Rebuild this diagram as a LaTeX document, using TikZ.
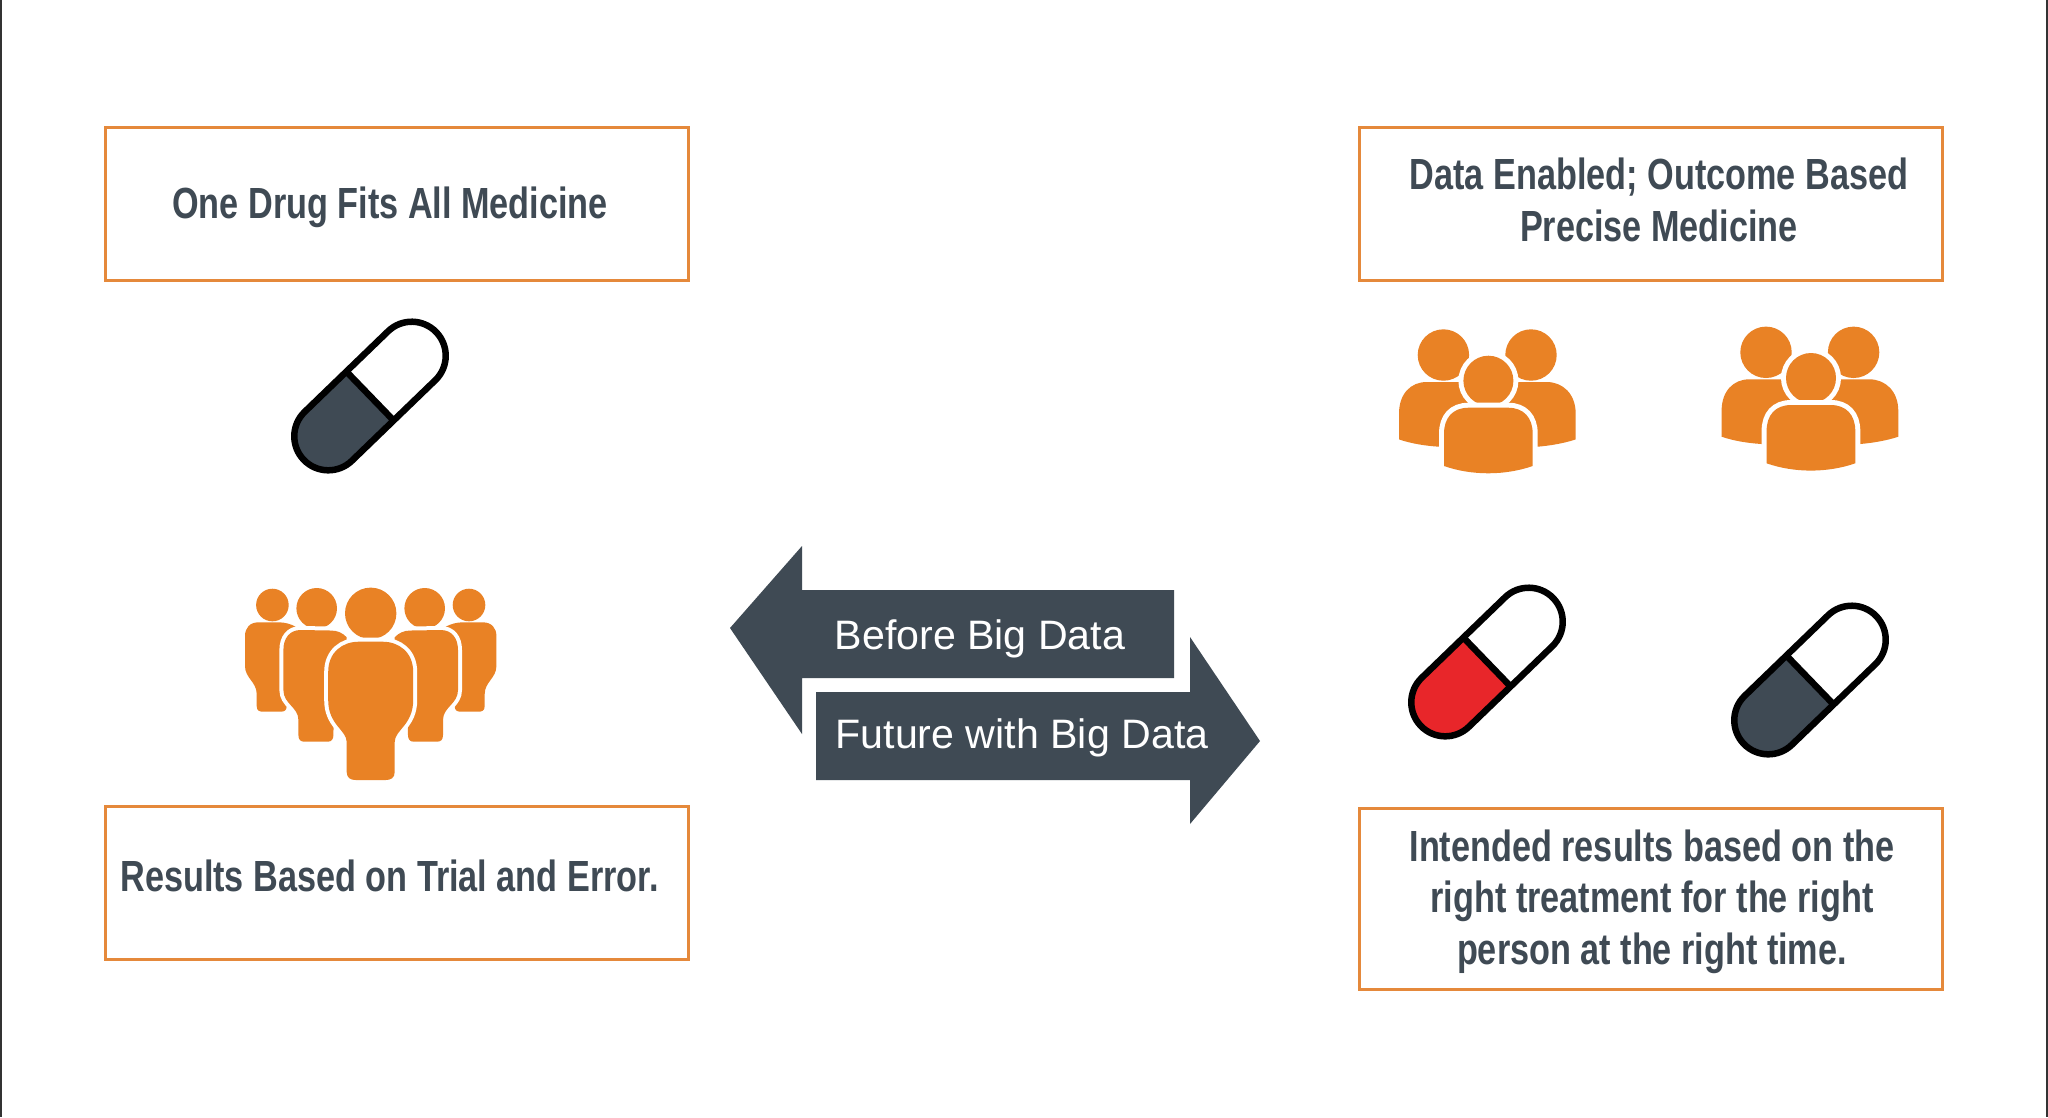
\documentclass[tikz,border=0pt]{standalone}
\usepackage{fontspec}
\setmainfont{Liberation Sans}
\newfontfamily\boxfont[FakeStretch=0.785]{Liberation Sans Bold}
\definecolor{slate}{HTML}{3F4A54}
\definecolor{pumpkin}{HTML}{E98225}
\definecolor{boxline}{HTML}{E5893B}
\definecolor{pillred}{HTML}{E8262A}
\tikzset{
    box/.style={draw=boxline, line width=0.03cm, inner sep=0pt, minimum width=5.82cm},
    boxtext/.style={text=slate, font=\boxfont\fontsize{12.4}{14.7}\selectfont, align=center},
    arrowtext/.style={text=white, font=\fontsize{11.7}{14}\selectfont},
    ring/.style={draw=white, line width=0.08cm},
    widering/.style={draw=white, line width=0.1cm},
    pill/.pic={
        % left half, then the outline
        \fill[#1] (0,-34) -- (-58,-34) arc (270:90:34) -- (0,34) -- cycle;
        \draw[line width=0.065cm] (-58,-34) -- (58,-34) arc (-90:90:34) -- (-58,34) arc (90:270:34) -- cycle;
        \draw[line width=0.065cm] (0,-34) -- (0,34);
    },
    trio/.pic={
        % back row
        \fill[pumpkin] (-43.3,46.7) circle (25.7) (44.3,46.7) circle (25.7);
        \fill[pumpkin] (-87.7,-37.7) -- (-87.7,-12) .. controls (-87.7,8) and (-76,19.7) .. (-60,19.7) -- (60,19.7) .. controls (76,19.7) and (89,8) .. (89,-12) -- (89,-37.7) .. controls (76,-42) and (62,-44) .. (51,-45) -- (-48,-45) .. controls (-62,-44) and (-75,-42) .. (-87.7,-37.7) -- cycle;
        % front person
        \path[widering] (1.7,21) circle (25);
        \fill[pumpkin] (1.7,21) circle (25);
        \def\frontbody{(-42.7,-64.3) -- (-42.7,-32) .. controls (-42.7,-16) and (-34,-6) .. (-18,-6) -- (21.4,-6) .. controls (37,-6) and (46,-16) .. (46,-32) -- (46,-64.3) .. controls (18,-74) and (-15,-74) .. (-42.7,-64.3) -- cycle}
        \path[widering] \frontbody;
        \fill[pumpkin] \frontbody;
    },
    crowdside/.pic={
        \fill[pumpkin] (-98.3,75) circle (16.3);
        \fill[pumpkin] (-54,71.7) circle (20.3);
        % outer body
        \fill[pumpkin] (-114,-26) .. controls (-114,-31) and (-111,-31.7) .. (-107,-31.7) -- (-90,-31.7) .. controls (-86,-31.7) and (-84,-30) .. (-84,-26) -- (-75,53.3) .. controls (-80,56) and (-86,57.7) .. (-92,57.7) -- (-112,57.7) .. controls (-121,57.7) and (-125.7,52) .. (-125.7,44) -- (-125.7,14) .. controls (-125.7,2) and (-114,-2) .. (-114,-14) -- cycle;
        % inner body
        \def\innerbody{(-72.3,-55) .. controls (-72.3,-60) and (-70,-61.7) .. (-66,-61.7) -- (-43,-61.7) .. controls (-39,-61.7) and (-37.3,-59) .. (-37.3,-55) -- (-37,-40) -- (-24,20) -- (-24,42.7) .. controls (-28,47) and (-33,49.5) .. (-40,49.5) -- (-70,50) .. controls (-81,50) and (-87.3,42) .. (-87.3,30) -- (-87.3,-10) .. controls (-87.3,-24) and (-72.3,-27) .. (-72.3,-40) -- cycle}
        \path[ring] \innerbody;
        \fill[pumpkin] \innerbody;
    },
    crowd/.pic={
        \pic {crowdside};
        \pic[xscale=-1] {crowdside};
        % middle person
        \fill[pumpkin] (0,66.7) circle (25.7);
        \def\middlebody{(-24,-92) .. controls (-24,-98) and (-20,-100) .. (-15,-100) -- (15,-100) .. controls (20,-100) and (24,-98) .. (24,-92) -- (24,-62) .. controls (24,-50) and (42.5,-45) .. (42.5,-20) -- (42.5,8) .. controls (42.5,28) and (28,38.3) .. (12,38.3) -- (-12,38.3) .. controls (-28,38.3) and (-42.5,28) .. (-42.5,8) -- (-42.5,-20) .. controls (-42.5,-45) and (-24,-50) .. (-24,-62) -- cycle}
        \path[ring] \middlebody;
        \fill[pumpkin] \middlebody;
    }
}

\begin{document}
\begin{tikzpicture}[x=0.01cm,y=0.01cm]
    \useasboundingbox (0,-1117) rectangle (2048,0);
    \fill[white] (0,-1117) rectangle (2048,0);
    \draw[line width=0.02cm, color=black!80] (1,0) -- (1,-1117);
    \draw[line width=0.02cm, color=black!80] (2047,0) -- (2047,-1117);

    % boxes
    \node[box, minimum height=1.52cm] (drugbox) at (397,-204) {};
    \node[box, minimum height=1.52cm] (resultbox) at (397,-883) {};
    \node[box, minimum height=1.52cm] (databox) at (1651,-204) {};
    \node[box, minimum height=1.81cm] (intentbox) at (1651,-899) {};

    % box texts
    \node[boxtext] (drugtext) at (390,-207) {One Drug Fits All Medicine};
    \node[boxtext] (resulttext) at (389.5,-876) {Results Based on Trial and Error.};
    \node[boxtext] (datatext) at (1659,-200) {Data Enabled; Outcome Based\\Precise Medicine};
    \node[boxtext] (intenttext) at (1652,-901.5) {Intended results based on the\\right treatment for the right\\person at the right time.};

    % icons
    \pic[rotate=44] at (370,-396) {pill=slate};
    \pic at (370.7,-680) {crowd};
    \pic at (1486.7,-401.7) {trio};
    \pic at (1809.3,-399) {trio};
    \pic[rotate=44] at (1487,-662) {pill=pillred};
    \pic[rotate=44] at (1810,-680) {pill=slate};

    % arrows
    \fill[slate] (730,-628) -- (802,-546) -- (802,-590) -- (1174,-590) -- (1174,-678) -- (802,-678) -- (802,-734) -- cycle;
    \fill[slate] (1260,-741) -- (1190,-637) -- (1190,-692) -- (816,-692) -- (816,-780) -- (1190,-780) -- (1190,-824) -- cycle;
    \node[arrowtext] (beforetext) at (980,-639) {Before Big Data};
    \node[arrowtext] (futuretext) at (1022,-738) {Future with Big Data};
\end{tikzpicture}
\end{document}
